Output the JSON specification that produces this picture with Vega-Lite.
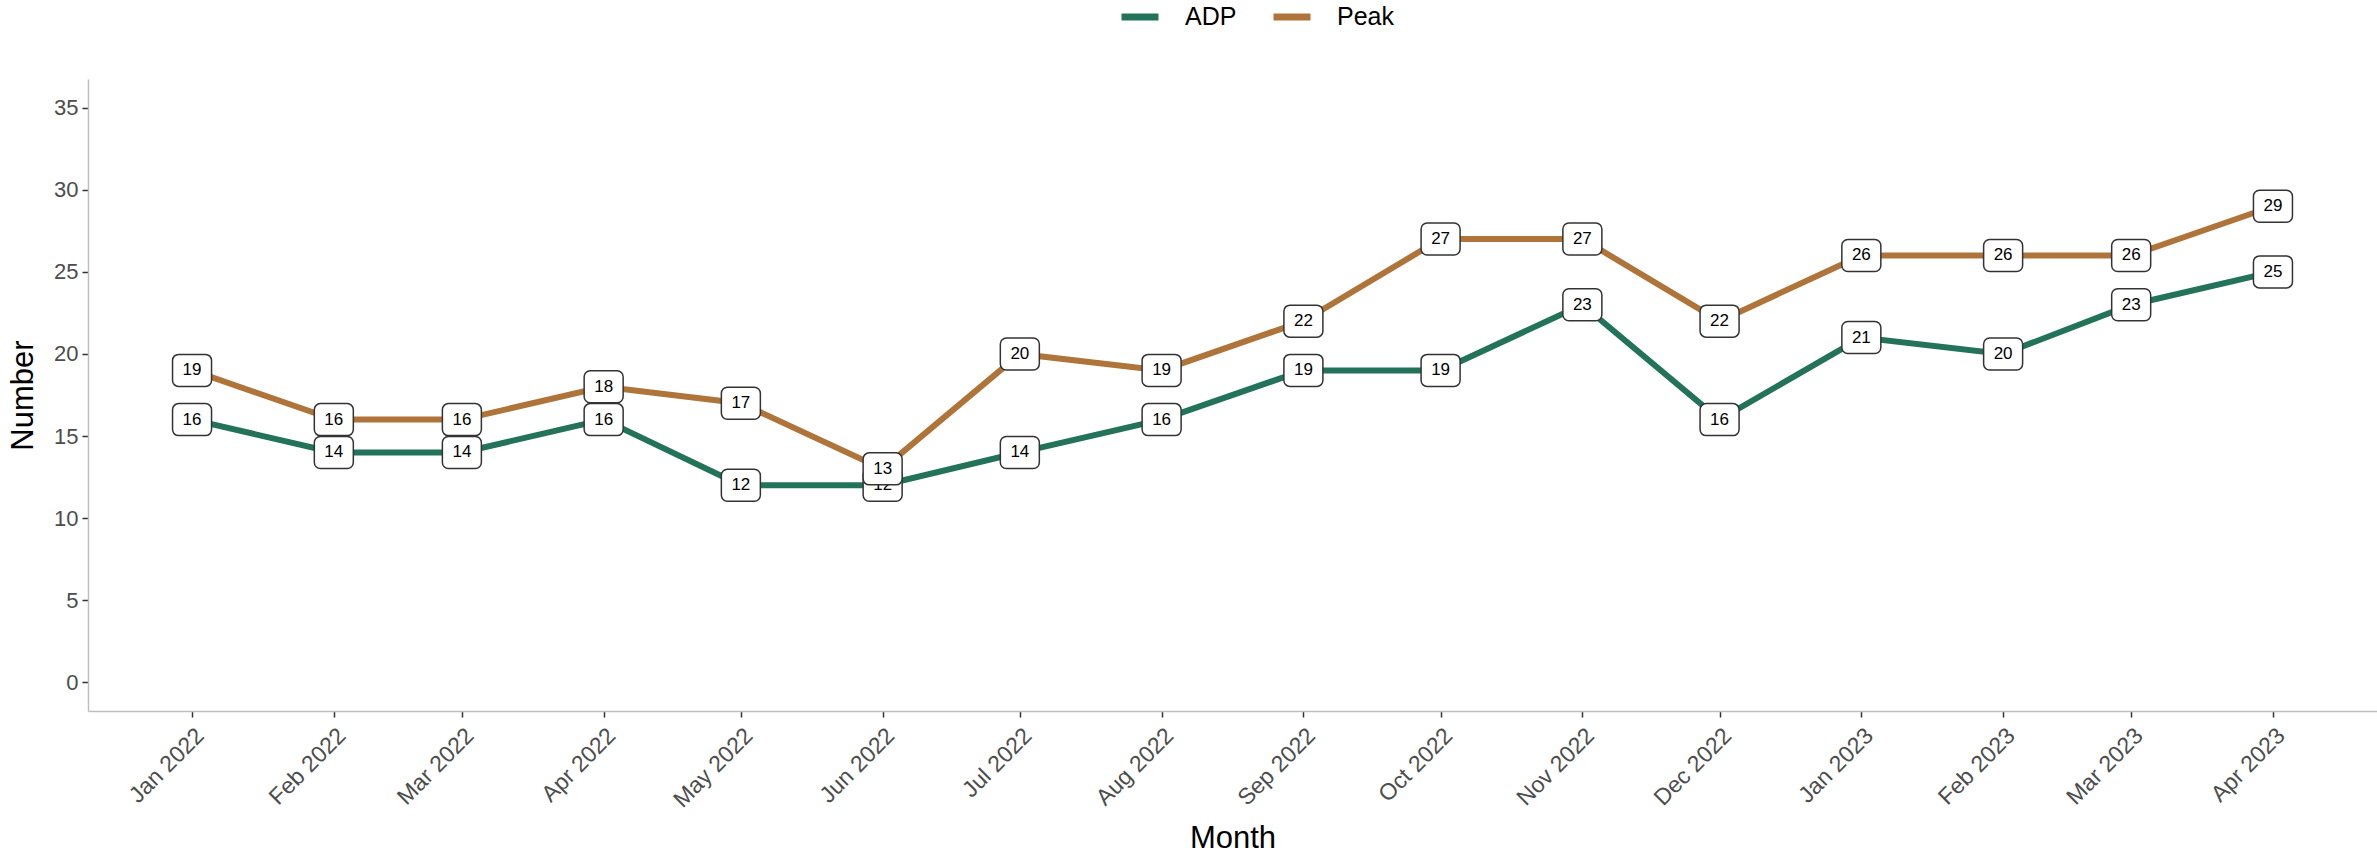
{
  "$schema": "https://vega.github.io/schema/vega-lite/v6.json",
  "width": 2289,
  "height": 632,
  "autosize": {"type": "none"},
  "padding": {"left": 88, "top": 79, "right": 0, "bottom": 146},
  "background": "white",
  "config": {
    "font": "Liberation Sans",
    "view": {"stroke": null}
  },
  "data": {
    "values": [
      {"month": "2022-01-01", "series": "ADP", "value": 16},
      {"month": "2022-02-01", "series": "ADP", "value": 14},
      {"month": "2022-03-01", "series": "ADP", "value": 14},
      {"month": "2022-04-01", "series": "ADP", "value": 16},
      {"month": "2022-05-01", "series": "ADP", "value": 12},
      {"month": "2022-06-01", "series": "ADP", "value": 12},
      {"month": "2022-07-01", "series": "ADP", "value": 14},
      {"month": "2022-08-01", "series": "ADP", "value": 16},
      {"month": "2022-09-01", "series": "ADP", "value": 19},
      {"month": "2022-10-01", "series": "ADP", "value": 19},
      {"month": "2022-11-01", "series": "ADP", "value": 23},
      {"month": "2022-12-01", "series": "ADP", "value": 16},
      {"month": "2023-01-01", "series": "ADP", "value": 21},
      {"month": "2023-02-01", "series": "ADP", "value": 20},
      {"month": "2023-03-01", "series": "ADP", "value": 23},
      {"month": "2023-04-01", "series": "ADP", "value": 25},
      {"month": "2022-01-01", "series": "Peak", "value": 19},
      {"month": "2022-02-01", "series": "Peak", "value": 16},
      {"month": "2022-03-01", "series": "Peak", "value": 16},
      {"month": "2022-04-01", "series": "Peak", "value": 18},
      {"month": "2022-05-01", "series": "Peak", "value": 17},
      {"month": "2022-06-01", "series": "Peak", "value": 13},
      {"month": "2022-07-01", "series": "Peak", "value": 20},
      {"month": "2022-08-01", "series": "Peak", "value": 19},
      {"month": "2022-09-01", "series": "Peak", "value": 22},
      {"month": "2022-10-01", "series": "Peak", "value": 27},
      {"month": "2022-11-01", "series": "Peak", "value": 27},
      {"month": "2022-12-01", "series": "Peak", "value": 22},
      {"month": "2023-01-01", "series": "Peak", "value": 26},
      {"month": "2023-02-01", "series": "Peak", "value": 26},
      {"month": "2023-03-01", "series": "Peak", "value": 26},
      {"month": "2023-04-01", "series": "Peak", "value": 29}
    ]
  },
  "encoding": {
    "x": {
      "field": "month",
      "type": "temporal",
      "scale": {"type": "utc", "domain": [1639029600000, 1682272800000], "nice": false},
      "axis": {
        "title": "Month",
        "titleFontSize": 31,
        "titleFontWeight": "normal",
        "titleColor": "black",
        "titleY": 127,
        "titleBaseline": "middle",
        "format": "%b %Y",
        "tickCount": {"interval": "month", "step": 1},
        "labelAngle": -45,
        "labelAlign": "right",
        "labelBaseline": "top",
        "labelFontSize": 23,
        "labelColor": "#4D4D4D",
        "labelPadding": 7,
        "labelOverlap": false,
        "labelFlush": false,
        "grid": false,
        "domainColor": "#BEBEBE",
        "domainWidth": 1.5,
        "tickColor": "#333333",
        "tickWidth": 1.5,
        "tickSize": 6
      }
    },
    "y": {
      "field": "value",
      "type": "quantitative",
      "scale": {"domain": [-1.75, 36.75], "nice": false, "zero": false},
      "axis": {
        "title": "Number",
        "titleFontSize": 31,
        "titleFontWeight": "normal",
        "titleColor": "black",
        "titleX": -65,
        "titleBaseline": "middle",
        "values": [0, 5, 10, 15, 20, 25, 30, 35],
        "labelFontSize": 22,
        "labelColor": "#4D4D4D",
        "labelPadding": 4,
        "grid": false,
        "domainColor": "#BEBEBE",
        "domainWidth": 1.5,
        "tickColor": "#333333",
        "tickWidth": 1.5,
        "tickSize": 6
      }
    }
  },
  "layer": [
    {
      "mark": {"type": "line", "strokeWidth": 6},
      "encoding": {
        "color": {
          "field": "series",
          "type": "nominal",
          "scale": {"domain": ["ADP", "Peak"], "range": ["#22735A", "#AF7439"]},
          "legend": {
            "title": null,
            "orient": "none",
            "direction": "horizontal",
            "legendX": 1030,
            "legendY": -84,
            "symbolType": "stroke",
            "symbolStrokeWidth": 7,
            "symbolSize": 1369,
            "labelFontSize": 25,
            "labelColor": "black",
            "labelOffset": 23,
            "columnPadding": 22,
            "padding": 0
          }
        }
      }
    },
    {
      "transform": [{"filter": "datum.series === 'ADP'"}],
      "mark": {"type": "rect", "width": 39, "height": 32, "cornerRadius": 6, "fill": "white", "stroke": "#333333", "strokeWidth": 1.5}
    },
    {
      "transform": [{"filter": "datum.series === 'ADP'"}],
      "mark": {"type": "text", "fontSize": 17, "color": "black", "align": "center", "baseline": "middle"},
      "encoding": {"text": {"field": "value", "type": "quantitative"}}
    },
    {
      "transform": [{"filter": "datum.series === 'Peak'"}],
      "mark": {"type": "rect", "width": 39, "height": 32, "cornerRadius": 6, "fill": "white", "stroke": "#333333", "strokeWidth": 1.5}
    },
    {
      "transform": [{"filter": "datum.series === 'Peak'"}],
      "mark": {"type": "text", "fontSize": 17, "color": "black", "align": "center", "baseline": "middle"},
      "encoding": {"text": {"field": "value", "type": "quantitative"}}
    }
  ]
}
